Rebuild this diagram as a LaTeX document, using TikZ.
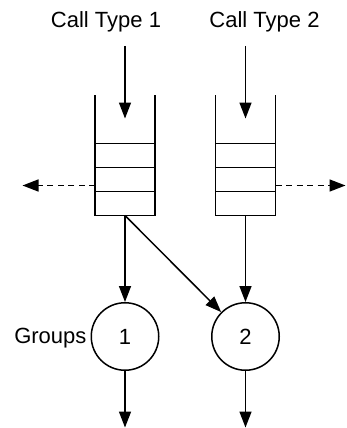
\documentclass[tikz,border=0pt]{standalone}
\usepackage{fontspec}
\setmainfont{Liberation Sans}
\usetikzlibrary{arrows.meta}
\begin{document}
\begin{tikzpicture}[x=1pt,y=-1pt,
  line width=1.5pt,
  every node/.style={font=\fontsize{22}{26}\selectfont},
  arr/.style={-{Triangle[length=16pt,width=12pt]}},
  dshline/.style={dash pattern=on 6pt off 4.5pt,shorten >=14pt},
  dshtip/.style={arr,shorten <=55pt},
  grp/.style={circle,draw,minimum size=67.5pt,inner sep=0pt},
  cell/.style={draw,minimum width=60pt,minimum height=24pt,inner sep=0pt,outer sep=0pt}
]
\useasboundingbox (0,0) rectangle (346,428);
% labels
\node[anchor=base] (t1) at (106,27.3) {Call Type 1};
\node[anchor=base] (t2) at (264.5,27.3) {Call Type 2};
\node[anchor=base east] (g) at (90.5,343.5) {Groups};
% queue 1
\node[cell] (a1) at (125,155.5) {};
\node[cell] (a2) at (125,179.5) {};
\node[cell] (a3) at (125,203.5) {};
\draw (95,95) -- (a1.north west) (155,95) -- (a1.north east);
\coordinate (q1) at (125,215.5);
% queue 2
\node[cell] (b1) at (245.5,155.5) {};
\node[cell] (b2) at (245.5,179.5) {};
\node[cell] (b3) at (245.5,203.5) {};
\draw (215.5,95) -- (b1.north west) (275.5,95) -- (b1.north east);
\coordinate (q2) at (245.5,215.5);
% groups
\node[grp] (c1) at (125,336.5) {1};
\node[grp] (c2) at (245.5,336.5) {2};
% coordinates
\coordinate (i1) at (125,46);
\coordinate (e1) at (125,118.5);
\coordinate (i2) at (245.5,46);
\coordinate (e2) at (245.5,118.5);
\coordinate (l1) at (95,185.5);
\coordinate (lo) at (22.5,185.5);
\coordinate (r1) at (275.5,185.5);
\coordinate (ro) at (345.5,185.5);
\coordinate (o1) at (125,427.5);
\coordinate (o2) at (245.5,427.5);
% connectors
\draw[arr] (i1) -- (e1);
\draw[arr] (i2) -- (e2);
\draw[dshline] (l1) -- (lo);
\draw[dshtip] (l1) -- (lo);
\draw[dshline] (r1) -- (ro);
\draw[dshtip] (r1) -- (ro);
\draw[arr] (q1) -- (c1);
\draw[arr] (q1) -- (c2);
\draw[arr] (q2) -- (c2);
\draw[arr] (c1) -- (o1);
\draw[arr] (c2) -- (o2);
\end{tikzpicture}
\end{document}
